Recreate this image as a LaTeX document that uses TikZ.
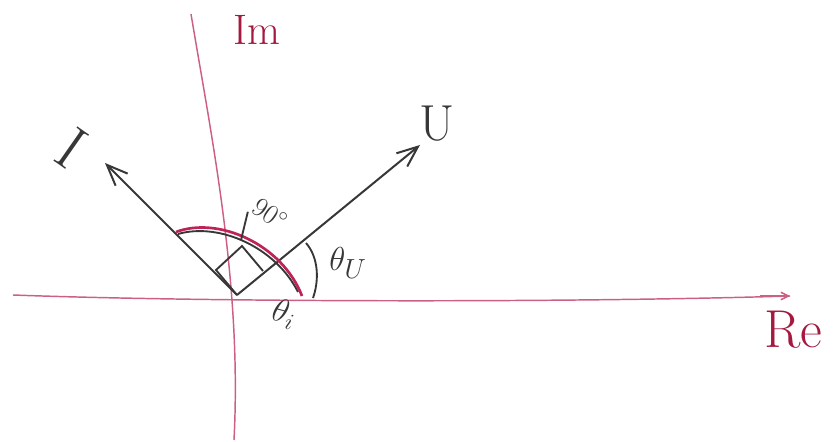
\documentclass[tikz,border=0pt]{standalone}
\usepackage{tikz}
\usetikzlibrary{arrows.meta}
\definecolor{axispink}{RGB}{205,95,135}
\definecolor{arcred}{RGB}{190,35,85}
\definecolor{inkred}{RGB}{165,25,65}
\definecolor{pencil}{RGB}{55,55,55}
\tikzset{axis/.style={draw=axispink,line width=1.1pt},
 phasor/.style={draw=pencil,line width=1.5pt,-{Straight Barb[length=5.5mm,width=4.5mm]}},
 pencilline/.style={draw=pencil,line width=1.4pt},
 lbl/.style={inner sep=1pt,text=pencil},
 axlbl/.style={inner sep=1pt,text=inkred}}
\begin{document}
\begin{tikzpicture}[x=0.75pt,y=-0.75pt]
 \useasboundingbox (0,0) rectangle (833,442);
 \coordinate (O) at (237,295);
 \coordinate (Reend) at (790,296);
 \coordinate (Imtop) at (191,14);
 \coordinate (Utip) at (420,145);
 \coordinate (Itip) at (105,163);
 \draw[axis] (13,295) .. controls (200,302) and (560,303) .. (Reend);
 \draw[axis,-{Straight Barb[length=2mm,width=2mm]}] (760,296) -- (Reend);
 \draw[axis] (Imtop) .. controls (212,140) and (242,285) .. (234,440);
 \node[axlbl,font=\fontsize{32}{32}\selectfont] (Im) at (257,30) {Im};
 \node[axlbl,font=\fontsize{40}{40}\selectfont] (Re) at (793,330) {Re};
 \draw[phasor] (O) -- (Utip);
 \draw[phasor] (O) -- (Itip);
 \node[lbl,font=\fontsize{38}{38}\selectfont] (Ulabel) at (437,124) {U};
 \node[lbl,font=\fontsize{46}{46}\selectfont,rotate=-35] (Ilabel) at (72,148) {I};
 \draw[pencilline] (O) -- ++(-21,-25) -- ++(26,-24) -- ++(21,25);
 \draw[pencilline] (178,234) .. controls (220,222) and (276,248) .. (298,292);
 \draw[draw=arcred,line width=2pt] (176,232) .. controls (218,216) and (282,244) .. (302,296);
 \draw[pencilline] (306,243) .. controls (319,258) and (319,281) .. (313,298);
 \node[lbl,font=\fontsize{28}{28}\selectfont] (thetaU) at (348,263) {$\theta_U$};
 \node[lbl,font=\fontsize{24}{24}\selectfont,rotate=-15] (thetai) at (284,314) {$\theta_i$};
 \node[lbl,font=\fontsize{22}{22}\selectfont,rotate=-35] (ninety) at (270,214) {$90^\circ$};
 \draw[pencilline] (241,240) -- (ninety.south west);
\end{tikzpicture}
\end{document}
